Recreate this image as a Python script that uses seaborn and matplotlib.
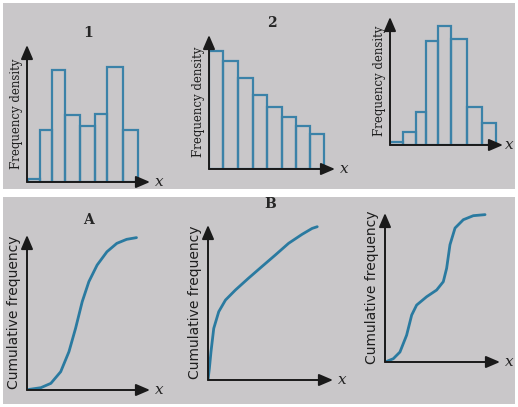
import matplotlib
matplotlib.use('Agg')
import matplotlib.pyplot as plt
import seaborn as sns
import numpy as np

sns.set_theme(style="white")

W, H = 518, 407

# --- data ---
# histogram 1 (bimodal)
edges_1 = [1, 13, 25, 38, 53, 68, 80, 96, 111]
heights_1 = [10, 150, 322, 192, 162, 195, 333, 150]
# histogram 2 (decreasing)
edges_2 = [0, 42, 87, 132, 175, 219, 260, 302, 344]
heights_2 = [353, 322, 273, 220, 185, 155, 128, 105]
# histogram 3 (symmetric peak)
edges_3 = [0, 38, 78, 107, 143, 185, 232, 278, 320]
heights_3 = [8, 38, 98, 310, 355, 318, 115, 66]

# cumulative curves (percent of axis length)
curve_a_x = [0, 1.9, 11.3, 19.4, 27.4, 34.1, 39.5, 44.9, 50.3, 57, 65, 73, 81, 89]
curve_a_y = [0, 0.4, 1.5, 4.3, 11.8, 24.7, 39.8, 57, 69.9, 80.6, 89.2, 94.6, 97.2, 98.3]
curve_b_x = [0, 1.1, 2.4, 4.6, 8.6, 14, 22, 32.3, 43, 53.8, 64.5, 75.3, 83.3, 87.4]
curve_b_y = [0, 7.5, 18.3, 33.3, 44.1, 51.6, 58.1, 65.6, 73.1, 80.6, 88.2, 94, 97.8, 98.9]
curve_c_x = [0, 1.4, 7.2, 13, 18.8, 23.2, 27.5, 36.2, 44.9, 50.7, 53.6, 56.5, 60.9, 68.1, 76.8, 87]
curve_c_y = [0, 0.4, 2.2, 6.7, 18, 31.5, 38.2, 43.8, 48.3, 53.9, 62.9, 78.7, 89.9, 95.5, 98.2, 98.9]

titles_top = ["1", "2", ""]
titles_bottom = ["A", "B", ""]

bar_color = '#3b82a8'
curve_color = '#2a7aa0'
bg = '#c9c7c9'

fig = plt.figure(figsize=(W / 100, H / 100), dpi=100, facecolor='white')


def px_axes(left, right, bottom, top):
    # axes placed by pixel coordinates (top-left origin)
    return fig.add_axes([left / W, 1 - bottom / H, (right - left) / W, (bottom - top) / H])


# grey page backgrounds
for top, bottom in [(3, 189), (197, 404)]:
    bgax = px_axes(3, 515, bottom, top)
    bgax.set_facecolor(bg)
    bgax.set_xticks([])
    bgax.set_yticks([])
    for s in bgax.spines.values():
        s.set_visible(False)
    bgax.set_zorder(-10)


def arrows(ax, xgap=0.04):
    for s in ax.spines.values():
        s.set_visible(False)
    ax.set_xticks([])
    ax.set_yticks([])
    ax.patch.set_alpha(0)
    ap = dict(arrowstyle='-|>,head_length=0.7,head_width=0.3', color='#1a1a1a', lw=1.4,
              shrinkA=0, shrinkB=0)
    ax.annotate('', xy=(1, 0), xytext=(0, 0), xycoords='axes fraction', arrowprops=ap)
    ax.annotate('', xy=(0, 1), xytext=(0, 0), xycoords='axes fraction', arrowprops=ap)
    ax.text(1 + xgap, 0.0, 'x', transform=ax.transAxes, fontsize=11, fontstyle='italic',
            family='DejaVu Serif', va='center', ha='left', color='#222222')


def histogram(ax, edges, heights, xmax, ymax, xgap=0.04):
    edges = np.array(edges)
    sns.barplot(x=edges[:-1] + np.diff(edges) / 2, y=heights, ax=ax, native_scale=True,
                width=1, fill=False, edgecolor=bar_color, linewidth=1.6)
    # barplot with native_scale gives equal widths; fix widths to the real class edges
    for p, l, r in zip(ax.patches, edges[:-1], edges[1:]):
        p.set_x(l)
        p.set_width(r - l)
    ax.set_xlim(0, xmax)
    ax.set_ylim(0, ymax)
    ax.set_xlabel('')
    ax.set_ylabel('Frequency density', family='DejaVu Serif', fontsize=8.5, color='#1e1e1e')
    ax.yaxis.labelpad = 3
    arrows(ax, xgap)


# top row
ax1 = px_axes(27, 150, 182, 45)
histogram(ax1, edges_1, heights_1, 123, 395)
ax1.set_title(titles_top[0], family='DejaVu Serif', fontweight='bold', fontsize=10, pad=6)

ax2 = px_axes(209, 335, 169, 35)
histogram(ax2, edges_2, heights_2, 377, 400)
ax2.set_title(titles_top[1], family='DejaVu Serif', fontweight='bold', fontsize=10, pad=6)

ax3 = px_axes(390, 503, 145, 17)
histogram(ax3, edges_3, heights_3, 340, 383, xgap=0.02)


def cumulative(ax, xs, ys):
    sns.lineplot(x=xs, y=ys, ax=ax, color=curve_color, linewidth=2)
    ax.set_xlim(0, 100)
    ax.set_ylim(0, 100)
    ax.set_ylabel('Cumulative frequency', fontsize=10, color='#1e1e1e')
    ax.yaxis.labelpad = 4
    arrows(ax)


# bottom row
axa = px_axes(27, 150, 390, 235)
cumulative(axa, curve_a_x, curve_a_y)
axa.set_title(titles_bottom[0], family='DejaVu Serif', fontweight='bold', fontsize=10, pad=8)

axb = px_axes(208, 333, 380, 225)
cumulative(axb, curve_b_x, curve_b_y)
axb.set_title(titles_bottom[1], family='DejaVu Serif', fontweight='bold', fontsize=10, pad=12)

axc = px_axes(385, 500, 362, 213)
cumulative(axc, curve_c_x, curve_c_y)

fig.savefig('out.png', dpi=100, facecolor='white')
